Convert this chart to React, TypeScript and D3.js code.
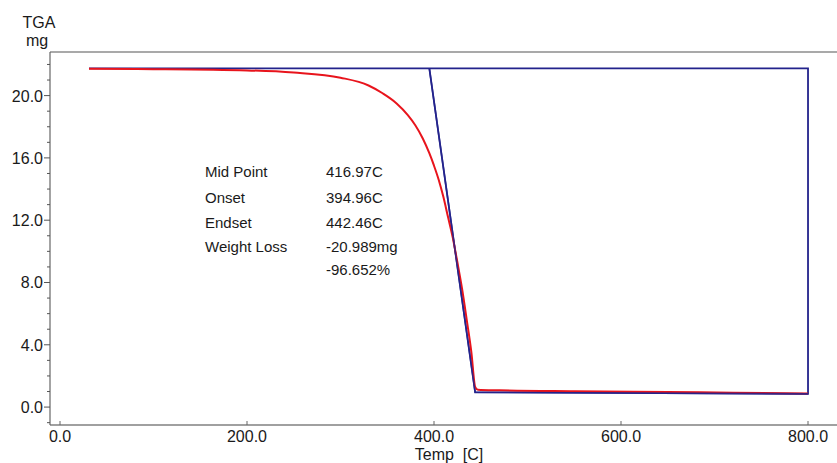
import React, { useEffect, useRef } from 'react';
import { select, scaleLinear, line, range, curveMonotoneX } from 'd3';

// measured TGA curve (red)
const tgaTemp = [31, 100, 200, 250, 300, 330, 345, 360, 372, 380, 388, 395, 400, 405, 410, 415, 420, 425, 430, 435, 440, 444, 447, 470, 550, 650, 720, 800];
const tgaMass = [21.72, 21.7, 21.62, 21.48, 21.15, 20.65, 20.15, 19.5, 18.75, 18.1, 17.25, 16.3, 15.5, 14.6, 13.5, 12.2, 10.9, 9.3, 7.6, 5.6, 3.5, 1.3, 1.12, 1.08, 1.02, 0.97, 0.92, 0.88];

// step analysis construction (blue)
const stepTemp = [31, 395, 444, 800, 800, 395];
const stepMass = [21.75, 21.75, 0.95, 0.85, 21.75, 21.75];

const yMajor = [0, 4, 8, 12, 16, 20];
const xMajor = [0, 200, 400, 600, 800];

const notes = [
  ['Mid Point', '416.97C'],
  ['Onset', '394.96C'],
  ['Endset', '442.46C'],
  ['Weight Loss', '-20.989mg'],
  ['', '-96.652%'],
];

const App = () => {
  const svgRef = useRef(null);

  useEffect(() => {
    const svg = select(svgRef.current);
    svg.selectAll('*').remove();

    const x = scaleLinear().domain([-10.7, 831]).range([50, 837]);
    const y = scaleLinear().domain([-1.15, 22.8]).range([425, 52]);
    const font = 'Arial, "Liberation Sans", sans-serif';
    const ink = '#1a1a1a';

    // frame
    svg.append('line').attr('x1', 50).attr('x2', 837).attr('y1', 52).attr('y2', 52)
      .attr('stroke', '#8c8c8c').attr('stroke-width', 1.5);
    svg.append('line').attr('x1', 50).attr('x2', 837).attr('y1', 425).attr('y2', 425)
      .attr('stroke', '#a0a0a0').attr('stroke-width', 2);
    svg.append('line').attr('x1', 50).attr('x2', 50).attr('y1', 52).attr('y2', 425)
      .attr('stroke', '#666').attr('stroke-width', 1.2);

    // y ticks
    const yMinor = range(-1, 23);
    svg.selectAll('.ymin').data(yMinor).join('line')
      .attr('x1', d => (yMajor.includes(d) ? 44 : 47)).attr('x2', 50)
      .attr('y1', d => y(d)).attr('y2', d => y(d))
      .attr('stroke', '#555').attr('stroke-width', 1);
    svg.selectAll('.ylab').data(yMajor).join('text')
      .attr('x', 43).attr('y', d => y(d) + 6)
      .attr('text-anchor', 'end').attr('font-family', font).attr('font-size', 16).attr('fill', ink)
      .text(d => d.toFixed(1));

    // x ticks
    svg.selectAll('.xt').data(xMajor).join('line')
      .attr('x1', d => x(d)).attr('x2', d => x(d)).attr('y1', 421).attr('y2', 425)
      .attr('stroke', '#666').attr('stroke-width', 1);
    svg.selectAll('.xlab').data(xMajor).join('text')
      .attr('x', d => x(d)).attr('y', 442)
      .attr('text-anchor', 'middle').attr('font-family', font).attr('font-size', 16).attr('fill', ink)
      .text(d => d.toFixed(1));

    svg.append('text').attr('x', 449).attr('y', 460).attr('text-anchor', 'middle')
      .style('white-space', 'pre')
      .attr('font-family', font).attr('font-size', 16).attr('fill', ink).text('Temp  [C]');
    svg.append('text').attr('x', 39).attr('y', 28).attr('text-anchor', 'middle')
      .attr('font-family', font).attr('font-size', 16).attr('fill', ink).text('TGA');
    svg.append('text').attr('x', 37).attr('y', 46).attr('text-anchor', 'middle')
      .attr('font-family', font).attr('font-size', 16).attr('fill', ink).text('mg');

    // curves
    const straight = line().x(d => x(d[0])).y(d => y(d[1]));
    const smooth = line().x(d => x(d[0])).y(d => y(d[1])).curve(curveMonotoneX);
    svg.append('path')
      .attr('d', straight(stepTemp.map((t, i) => [t, stepMass[i]])))
      .attr('fill', 'none').attr('stroke', '#23238c').attr('stroke-width', 1.8);
    svg.append('path')
      .attr('d', smooth(tgaTemp.map((t, i) => [t, tgaMass[i]])))
      .attr('fill', 'none').attr('stroke', '#e8141c').attr('stroke-width', 2);
    // steep part of the step line drawn on top of red
    svg.append('path')
      .attr('d', straight([[stepTemp[1], stepMass[1]], [stepTemp[2], stepMass[2]], [stepTemp[3], stepMass[3]]]))
      .attr('fill', 'none').attr('stroke', '#23238c').attr('stroke-width', 1.6).attr('opacity', 0.85);

    // analysis results
    const rowY = [176.5, 202.5, 228, 252, 275];
    const g = svg.append('g').attr('font-family', font).attr('font-size', 15).attr('fill', ink);
    notes.forEach((n, i) => {
      g.append('text').attr('x', 205).attr('y', rowY[i]).text(n[0]);
      g.append('text').attr('x', 326).attr('y', rowY[i]).text(n[1]);
    });
  }, []);

  return (
    <svg ref={svgRef} width={837} height={463}
      style={{ position: 'absolute', left: 0, top: 0, background: '#fff' }} />
  );
};

export default App;
